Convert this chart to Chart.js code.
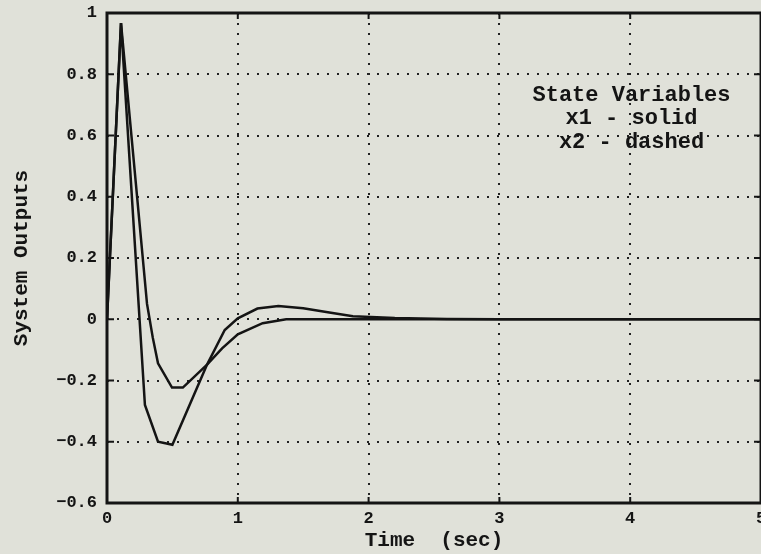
<!DOCTYPE html>
<html>
<head>
<meta charset="utf-8">
<script src="https://cdn.jsdelivr.net/npm/chart.js@4/dist/chart.umd.min.js"></script>
<style>
  html, body { margin: 0; padding: 0; background: #e0e1d9; }
  #wrap { width: 761px; height: 554px; overflow: hidden; }
  canvas { display: block; }
</style>
</head>
<body>
<div id="wrap"><canvas id="chart" width="780" height="554"></canvas></div>
<script>
// time samples and responses
const timeX1 = [0, 0.107, 0.29, 0.39, 0.5, 0.765, 0.9, 1.0, 1.15, 1.31, 1.5, 1.7, 1.88, 2.2, 2.6, 3, 5];
const x1 = [0, 0.967, -0.28, -0.40, -0.41, -0.148, -0.035, 0.003, 0.035, 0.043, 0.036, 0.022, 0.01, 0.004, 0.001, 0, 0];

const timeX2 = [0, 0.107, 0.306, 0.35, 0.39, 0.497, 0.58, 0.765, 0.88, 1.0, 1.19, 1.37, 1.6, 5];
const x2 = [0, 0.967, 0.05, -0.06, -0.144, -0.223, -0.223, -0.148, -0.095, -0.049, -0.013, 0.0, 0, 0];

const xTicks = [0, 1, 2, 3, 4, 5];
const yTicks = [-0.6, -0.4, -0.2, 0, 0.2, 0.4, 0.6, 0.8, 1];
const yTickLabels = ["\u22120.6", "\u22120.4", "\u22120.2", "0", "0.2", "0.4", "0.6", "0.8", "1"];

const noteLines = ["State Variables", "x1 - solid", "x2 - dashed"];
const noteX = 4.01;
const noteY = [0.73, 0.655, 0.578];

const ink = "#141414";
const mono = "'Liberation Mono', 'DejaVu Sans Mono', monospace";

function pairs(xs, ys) {
  return xs.map((t, i) => ({ x: t, y: ys[i] }));
}

// background, frame with inward ticks, and the text note
const framePlugin = {
  id: "frame",
  beforeDraw(chart) {
    const ctx = chart.ctx;
    ctx.save();
    ctx.fillStyle = "#e0e1d9";
    ctx.fillRect(0, 0, chart.width, chart.height);
    ctx.restore();
  },
  afterDatasetsDraw(chart) {
    const { ctx, chartArea: a, scales } = chart;
    ctx.save();
    ctx.strokeStyle = ink;
    ctx.lineWidth = 3;
    ctx.strokeRect(a.left, a.top, a.right - a.left, a.bottom - a.top);
    ctx.lineWidth = 2;
    ctx.beginPath();
    xTicks.forEach(v => {
      const px = scales.x.getPixelForValue(v);
      ctx.moveTo(px, a.bottom); ctx.lineTo(px, a.bottom - 6);
      ctx.moveTo(px, a.top); ctx.lineTo(px, a.top + 6);
    });
    yTicks.forEach(v => {
      const py = scales.y.getPixelForValue(v);
      ctx.moveTo(a.left, py); ctx.lineTo(a.left + 7, py);
      ctx.moveTo(a.right, py); ctx.lineTo(a.right - 7, py);
    });
    ctx.stroke();

    ctx.fillStyle = ink;
    ctx.font = "bold 22px " + mono;
    ctx.textAlign = "center";
    ctx.textBaseline = "middle";
    noteLines.forEach((s, i) => {
      ctx.fillText(s, scales.x.getPixelForValue(noteX), scales.y.getPixelForValue(noteY[i]));
    });
    ctx.restore();
  }
};

new Chart(document.getElementById("chart"), {
  type: "line",
  data: {
    datasets: [
      { label: "x1", data: pairs(timeX1, x1), borderColor: ink, borderWidth: 2.5, pointRadius: 0, tension: 0, fill: false },
      { label: "x2", data: pairs(timeX2, x2), borderColor: ink, borderWidth: 2.5, pointRadius: 0, tension: 0, fill: false }
    ]
  },
  options: {
    responsive: false,
    animation: false,
    layout: { padding: { top: 13, right: 19, left: 0, bottom: 0 } },
    plugins: { legend: { display: false }, tooltip: { enabled: false } },
    scales: {
      x: {
        type: "linear",
        min: 0,
        max: 5,
        afterBuildTicks(s) { s.ticks = xTicks.map(v => ({ value: v })); },
        afterFit(s) { s.height = 51; s.paddingLeft = 0; s.paddingRight = 0; },
        grid: { color: "#222", lineWidth: 2, drawTicks: false },
        border: { display: false, dash: [2, 8] },
        ticks: { color: ink, padding: 6, font: { family: mono, size: 17, weight: "bold" }, maxRotation: 0 },
        title: { display: true, text: "Time  (sec)", color: ink, padding: { top: 0, bottom: 1 }, font: { family: mono, size: 21, weight: "bold" } }
      },
      y: {
        min: -0.6,
        max: 1,
        afterBuildTicks(s) { s.ticks = yTicks.map(v => ({ value: v })); },
        afterFit(s) { s.width = 107; s.paddingTop = 0; s.paddingBottom = 0; },
        grid: { color: "#222", lineWidth: 2, drawTicks: false },
        border: { display: false, dash: [2, 8] },
        ticks: {
          color: ink,
          padding: 10,
          font: { family: mono, size: 17, weight: "bold" },
          callback: (v) => {
            const i = yTicks.findIndex(t => Math.abs(t - v) < 1e-9);
            return i >= 0 ? yTickLabels[i] : "";
          }
        },
        title: { display: true, text: "System Outputs", color: ink, padding: { top: 9, bottom: 0 }, font: { family: mono, size: 21, weight: "bold" } }
      }
    }
  },
  plugins: [framePlugin]
});
</script>
</body>
</html>
